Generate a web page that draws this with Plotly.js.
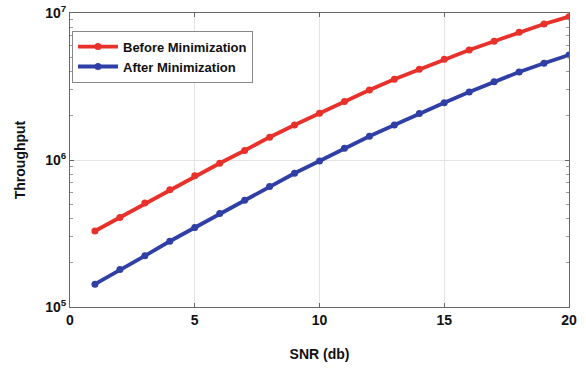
<!DOCTYPE html>
<html><head><meta charset="utf-8">
<script src="https://cdn.plot.ly/plotly-3.0.1.min.js"></script>
<style>html,body{margin:0;padding:0;background:#fff}#chart{width:586px;height:368px}</style>
</head><body><div id="chart"></div>
<script>
const snr = [1,2,3,4,5,6,7,8,9,10,11,12,13,14,15,16,17,18,19,20];
const beforeMin = [3.29e5,4.07e5,5.1e5,6.28e5,7.8e5,9.5e5,1.16e6,1.43e6,1.73e6,2.08e6,2.5e6,2.99e6,3.54e6,4.14e6,4.84e6,5.6e6,6.42e6,7.39e6,8.41e6,9.44e6];
const afterMin = [1.43e5,1.8e5,2.23e5,2.8e5,3.47e5,4.32e5,5.32e5,6.59e5,8.13e5,9.85e5,1.2e6,1.45e6,1.73e6,2.07e6,2.45e6,2.9e6,3.4e6,3.97e6,4.55e6,5.18e6];
const xTicks = [0,5,10,15,20];
const yTickVals = [1e5,1e6,1e7];
const yTickText = ['10<sup>5</sup>','10<sup>6</sup>','10<sup>7</sup>'];

const minorVals = [];
yTickVals.slice(0,-1).forEach(d => { for (let k=2;k<10;k++) minorVals.push(d*k); });

const font = {family:'Liberation Sans, Arial, sans-serif', color:'#111'};
const traces = [
  {x:snr, y:beforeMin, name:'Before Minimization', mode:'lines+markers',
   line:{color:'#e8312a', width:3.8}, marker:{color:'#e8312a', size:7}},
  {x:snr, y:afterMin, name:'After Minimization', mode:'lines+markers',
   line:{color:'#2f3fa6', width:3.8}, marker:{color:'#2f3fa6', size:7}}
];
const layout = {
  width:586, height:368,
  margin:{l:70, r:17, t:13, b:61},
  paper_bgcolor:'#fff', plot_bgcolor:'#fff',
  font:font,
  showlegend:true,
  legend:{x:0.004, y:0.94, xanchor:'left', yanchor:'top', bgcolor:'#fff',
    bordercolor:'#888', borderwidth:1, font:{family:font.family, size:13, color:'#111', weight:'bold'},
    tracegroupgap:0, itemwidth:40},
  xaxis:{range:[0,20], tickvals:xTicks, ticktext:xTicks.map(String),
    showgrid:true, gridcolor:'#e4e4e4', gridwidth:1, zeroline:false,
    showline:true, linecolor:'#666', linewidth:1, mirror:'ticks',
    ticks:'inside', ticklen:4, tickcolor:'#666',
    tickfont:{family:font.family, size:14, color:'#111', weight:'bold'},
    title:{text:'SNR (db)', font:{family:font.family, size:14, color:'#111', weight:'bold'}, standoff:22}},
  yaxis:{type:'log', range:[5,7], tickmode:'array', tickvals:yTickVals, ticktext:yTickText,
    showgrid:true, gridcolor:'#e4e4e4', gridwidth:1, zeroline:false,
    showline:true, linecolor:'#666', linewidth:1, mirror:'ticks',
    ticks:'inside', ticklen:4, tickcolor:'#666',
    minor:{tickmode:'array', tickvals:minorVals, ticks:'inside', ticklen:3, tickwidth:1, tickcolor:'#999', showgrid:false},
    tickfont:{family:font.family, size:14, color:'#111', weight:'bold'},
    title:{text:'Throughput', font:{family:font.family, size:14, color:'#111', weight:'bold'}, standoff:16}}
};
Plotly.newPlot('chart', traces, layout, {displayModeBar:false, staticPlot:true});
</script></body></html>
